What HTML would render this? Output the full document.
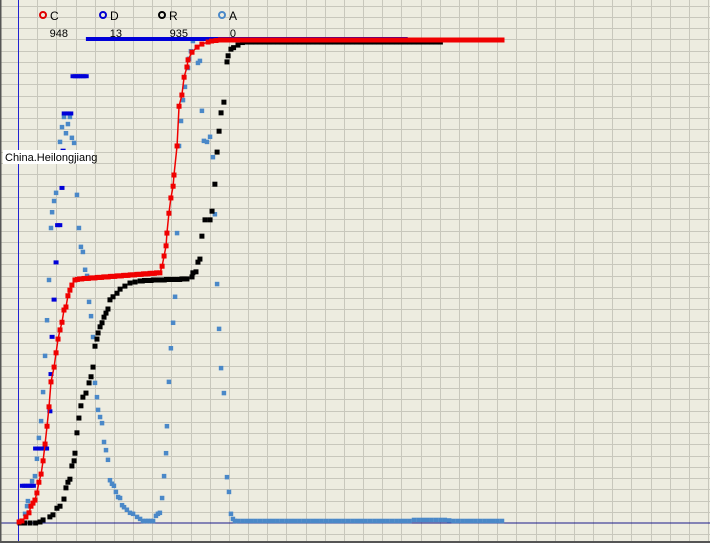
<!DOCTYPE html>
<html><head><meta charset="utf-8"><style>
html,body{margin:0;padding:0;background:#edece0;}
svg{display:block;font-family:"Liberation Sans",sans-serif;}
</style></head><body>
<svg id="chart" width="710" height="543" viewBox="0 0 710 543">
<rect x="0" y="0" width="710" height="543" fill="#edece0"/>
<g id="grid"></g>
<line x1="0" y1="523" x2="710" y2="523" stroke="#1a1a8a" stroke-width="1"/>
<line x1="18.5" y1="0" x2="18.5" y2="543" stroke="#2020d0" stroke-width="1"/>
<g id="series"></g>
<g>
 <g><circle cx="43" cy="15" r="3" fill="none" stroke="#e00000" stroke-width="2"/><text x="50" y="20" font-size="12" fill="#000">C</text><text x="68" y="37" font-size="11" text-anchor="end" fill="#000">948</text></g>
 <g><circle cx="103" cy="15" r="3" fill="none" stroke="#0000d0" stroke-width="2"/><text x="110" y="20" font-size="12" fill="#000">D</text><text x="122" y="37" font-size="11" text-anchor="end" fill="#000">13</text></g>
 <g><circle cx="162" cy="15" r="3" fill="none" stroke="#000" stroke-width="2"/><text x="169" y="20" font-size="12" fill="#000">R</text><text x="188" y="37" font-size="11" text-anchor="end" fill="#000">935</text></g>
 <g><circle cx="222" cy="15" r="3" fill="none" stroke="#4a88c8" stroke-width="2"/><text x="229" y="20" font-size="12" fill="#000">A</text><text x="236" y="37" font-size="11" text-anchor="end" fill="#000">0</text></g>
</g>
<g><rect x="3" y="150" width="91" height="14" fill="#fff"/><text x="5" y="161" font-size="11" fill="#000">China.Heilongjiang</text></g>
<rect x="0" y="0" width="1.5" height="543" fill="#555"/>
<rect x="0" y="541" width="710" height="2" fill="#555"/>
</svg>
<script>
const cDays=[0.5,1.8,3.6,5,5.9,6.8,7.7,8.6,9.5,10.5,11.4,12.3,13.2,14.1,15,16.4,17.3,18.2,19.1,20,20.9,21.8,22.7,23.6,24.5,25.9,27,28,29,30,31,32,33,34,35,36,37,38,39,40,41,42,43,44,45,46,47,48,49,50,51,52,53,54,55,56,57,58,59,60,61,62,63,64.5,65.5,66.4,67.3,67.7,68.6,69.5,70.5,70.9,72.3,73.2,74.5,75.5,76.8,77.3,79.1,81.4,83.6,86.4,88,90,92,94,96,98,100,102,104,106,108,110,112,114,116,118,120,122,124,126,128,130,132,134,136,138,140,142,144,146,148,150,152,154,156,158,160,162,164,166,168,170,172,174,176,178,180,182,184,186,188,190,192,194,196,198,200,202,204,206,208,210,212,214,216,218,220];
const cVals=[2,4,12,20,33,39,45,59,80,96,122,155,190,228,277,306,334,361,379,394,418,424,446,457,467,477,
478,479,479,480,480,480,481,481,481,482,482,482,483,483,483,484,484,484,485,485,485,486,486,486,487,487,487,488,488,488,489,489,489,490,490,490,491,
491,504,524,544,569,608,638,661,683,740,818,840,875,895,909,924,934,940,944,
946,947,948,948,948,
948,948,948,948,948,
948,948,948,948,948,
948,948,948,948,948,
948,948,948,948,948,
948,948,948,948,948,
948,948,948,948,948,
948,948,948,948,948,
948,948,948,948,948,
948,948,948,948,948,
948,948,948,948,948,
948,948,948,948,948,
948,948,948,948,948,
948,948];
const rDays=[0.9,3,5.5,8,10,11.4,14.5,15.9,17.7,19.1,20.9,21.8,22.7,23.6,24.5,25.5,25.9,26.8,27.7,28.6,29.5,30.9,32.3,33.2,34.1,35,35.9,36.4,37.3,38.2,39.1,40,40.9,41.8,43.2,45,46.4,48.6,50.9,53.2,55.5,56.5,57.5,58.5,59.5,60.5,61.5,62.5,63.5,64.5,65.5,66.5,67.5,68.5,69.5,70.5,71.5,72.5,73.5,74.5,75.5,76.8,79.1,79.5,80.9,81.8,82.7,83.6,85,87.3,88.2,89.5,90.5,91.4,92.3,93.6,95,95.5,96.8,98,100,102,104,106,108,110,112,114,116,118,120,122,124,126,128,130,132,134,136,138,140,142,144,146,148,150,152,154,156,158,160,162,164,166,168,170,172,174,176,178,180,182,184,186,188,190,192];
const rVals=[0,0,0,0,2,6,12,16,29,33,47,69,80,86,112,122,137,177,206,230,247,255,275,287,306,347,361,373,385,393,404,412,420,438,444,451,459,465,471,473,475,
475,476,476,476,476,477,477,477,477,477,477,478,478,478,478,478,478,478,479,479,
479,483,491,493,512,518,563,595,595,612,665,728,769,805,826,905,917,930,
933,938,943,944,944,
944,944,944,944,944,
944,944,944,944,944,
944,944,944,944,944,
944,944,944,944,944,
944,944,944,944,944,
944,944,944,944,944,
944,944,944,944,944,
944,944,944,944,944,
944,944,944];
const aDays=[3.2,4.1,4.5,6.4,7.7,8.6,9.5,10.5,11.4,12.3,13.2,14.1,15,15.5,16.4,17.3,19.1,20,20.9,21.8,22.7,23.6,24.5,25.5,26.8,27.7,28.6,29.5,30.5,31.4,32.3,33.2,34.1,35,35.9,36.4,37.3,38.2,39.1,40,40.9,41.8,42.7,43.6,44.5,45.5,46.4,47.3,48.2,49.5,50.9,52.3,54.1,55.5,56.8,58,59.1,60.3,61.4,62.7,63.6,64.5,65.5,66.4,67.3,67.7,68.6,69.5,70.5,71.4,72.3,73.2,74.1,75,75.9,77.3,77.7,78.6,79.5,81.8,82.7,83.6,84.5,85.9,87.3,88.6,89.5,90.5,91.4,92.3,93.6,95,95.9,96.8,97.7,98.6,100,102,104,106,108,110,112,114,116,118,120,122,124,126,128,130,132,134,136,138,140,142,144,146,148,150,152,154,156,158,160,162,164,166,168,170,172,174,176,178,180,182,184,186,188,190,192,194,196,198,200,202,204,206,208,210,212,214,216,218,220];
const aVals=[18,33,43,82,92,126,167,200,257,328,398,477,579,610,632,648,748,777,797,765,783,797,756,746,644,579,542,532,497,485,434,406,365,275,247,222,208,196,159,143,124,84,77,73,61,51,49,35,31,26,20,18,12,8,4,4,4,4,4,14,18,20,49,92,137,190,277,343,393,444,569,740,789,830,856,893,911,926,946,903,907,809,750,748,758,718,606,469,381,304,255,90,61,18,8,4,4,4,4,4,4,4,4,4,4,4,4,4,4,4,4,4,4,4,4,4,4,4,4,4,4,4,4,4,4,4,4,4,4,4,4,4,4,4,4,4,6,6,6,6,6,6,6,6,5,4,4,4,4,4,4,4,4,4,4,4,4,4,4,4,4];
const dDays=[2,3,4,5,6,7,8,9,10,11,12,13,14.5,15,15.5,16.4,17.3,18,19,20,20.5,21,22,23,24,25,26,27,28,29,30,31,32,34,36,38,40,42,44,46,48,50,52,54,56,58,60,62,64,66,68,70,72,74,76,78,80,82,84,86,88,90,92,94,96,98,100,102,104,106,108,110,112,114,116,118,120,122,124,126,128,130,132,134,136,138,140,142,144,146,148,150,152,154,156,158,160,162,164,166,168,170,172,174,176];
const dVals=[1,1,1,1,1,1,2,2,2,2,2,2,3,4,5,6,7,8,8,9,10,11,11,11,11,12,12,12,12,12,12,12,13,13,13,13,13,13,13,13,13,13,13,13,13,13,13,13,13,13,13,13,13,13,13,13,13,13,13,13,13,13,13,13,13,13,13,13,13,13,13,13,13,13,13,13,13,13,13,13,13,13,13,13,13,13,13,13,13,13,13,13,13,13,13,13,13,13,13,13,13,13,13,13,13];
const dMax=13;

const X0=18, DX=2.2, Y0=523, TOPY=40, CMAX=948;
function xs(d){return X0+d*DX;}
function ys(v){return Y0-(Y0-TOPY)*v/CMAX;}
function ysD(k){return Y0-(Y0-39)*k/dMax;}
const NS="http://www.w3.org/2000/svg";
const grid=document.getElementById('grid');
for(let x=X0+19.17;x<710;x+=19.17){
  const l=document.createElementNS(NS,'line');
  l.setAttribute('x1',Math.round(x)+0.5);l.setAttribute('x2',Math.round(x)+0.5);l.setAttribute('y1',0);l.setAttribute('y2',543);
  l.setAttribute('stroke','#c8c7bc');
  
  
  grid.appendChild(l);
}
for(let y=Y0-11.25;y>0;y-=11.25){
  const l=document.createElementNS(NS,'line');
  l.setAttribute('y1',Math.round(y)+0.5);l.setAttribute('y2',Math.round(y)+0.5);l.setAttribute('x1',0);l.setAttribute('x2',710);
  l.setAttribute('stroke','#c8c7bc');
  
  
  grid.appendChild(l);
}
{const l=document.createElementNS(NS,'line');l.setAttribute('y1',534.5);l.setAttribute('y2',534.5);l.setAttribute('x1',0);l.setAttribute('x2',710);l.setAttribute('stroke','#c8c7bc');


grid.appendChild(l);}

const layer=document.getElementById('series');
function markers(days,vals,yf,color,name,w,h){
  const g=document.createElementNS(NS,'g');
  
  
  const n=Math.min(days.length,vals.length);
  for(let i=0;i<n;i++){
    const r=document.createElementNS(NS,'rect');
    r.setAttribute('x',xs(days[i])-w/2);r.setAttribute('y',yf(vals[i])-h/2);
    r.setAttribute('width',w);r.setAttribute('height',h);r.setAttribute('fill',color);
    
    
    g.appendChild(r);
  }
  layer.appendChild(g);
}
markers(aDays,aVals,ys,'#4a88c8','series-a',4.5,4.5);
markers(rDays,rVals,ys,'#000000','series-r',5,5);
markers(dDays,dVals,ysD,'#0000d8','series-d',5,4);
const nC=Math.min(cDays.length,cVals.length);
const pl=document.createElementNS(NS,'polyline');
pl.setAttribute('points',cDays.slice(0,nC).map((d,i)=>xs(d)+','+ys(cVals[i])).join(' '));
pl.setAttribute('fill','none');pl.setAttribute('stroke','#f00000');pl.setAttribute('stroke-width','1.5');


layer.appendChild(pl);
markers(cDays,cVals,ys,'#f00000','series-c',5,5);
</script>
</body></html>
